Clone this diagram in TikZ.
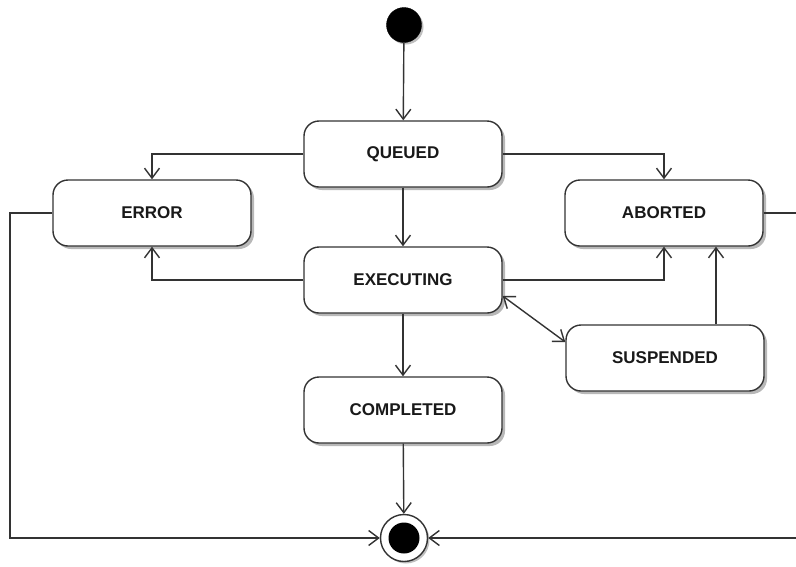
\documentclass[tikz,border=0pt]{standalone}
\usepackage{fontspec}
\setmainfont{Liberation Sans}
\usetikzlibrary{arrows.meta,shadows}
\definecolor{linec}{HTML}{333333}
\tikzset{
  statebox/.style={draw=linec, line width=1.4pt, rounded corners=15pt, fill=white,
    minimum width=198pt, minimum height=66pt, inner sep=0pt,
    font=\fontsize{17}{20}\selectfont\bfseries, text=black!90,
    drop shadow={shadow xshift=3pt, shadow yshift=-3pt, opacity=0.28, fill=black}},
  initstate/.style={circle, fill=black, draw=black, minimum size=35pt, inner sep=0pt,
    drop shadow={shadow xshift=2pt, shadow yshift=-2pt, opacity=0.25, fill=black}},
  finalstate/.style={circle, fill=white, draw=linec, line width=1.4pt, minimum size=47pt, inner sep=0pt,
    drop shadow={shadow xshift=2pt, shadow yshift=-2pt, opacity=0.25, fill=black}},
  conn/.style={draw=linec, line width=1.4pt, -{Straight Barb[length=10pt,width=15pt,line width=1.4pt]}},
  conn2/.style={draw=linec, line width=1.4pt, {Straight Barb[length=10pt,width=15pt,line width=1.4pt]}-{Straight Barb[length=10pt,width=15pt,line width=1.4pt]}},
  plain/.style={draw=linec, line width=1.4pt}
}
\begin{document}
\begin{tikzpicture}[x=1pt,y=-1pt]
\useasboundingbox (0,0) rectangle (796,566);
\begin{scope}
\clip (0,0) rectangle (796,566);
\node[initstate] (start) at (404,25) {};
\node[statebox] (queued) at (403,154) {QUEUED};
\node[statebox] (error) at (152,213) {ERROR};
\node[statebox] (aborted) at (664,213) {ABORTED};
\node[statebox] (exec) at (403,280) {EXECUTING};
\node[statebox] (susp) at (665,358) {SUSPENDED};
\node[statebox] (compl) at (403,410) {COMPLETED};
\node[finalstate] (end) at (404,538) {};
\fill[black] (end.center) circle (15.5pt);

\draw[conn] (start) -- (queued);
\draw[conn] (queued.west) -| (error.north);
\draw[conn] (queued.east) -| (aborted.north);
\draw[conn] (queued) -- (exec);
\draw[conn] (exec.west) -| (error.south);
\draw[conn] (exec.east) -| (aborted.south);
\draw[conn2] ([yshift=-16pt]exec.east) -- ([yshift=16pt]susp.west);
\draw[conn] ([xshift=51pt]susp.north) -- ([xshift=51pt]susp.north |- aborted.south);
\draw[conn] (exec) -- (compl);
\draw[conn] (compl) -- (end);
\coordinate (lcorner) at (10,213);
\coordinate (rcorner) at (800,213);
\draw[conn] (error.west) -- (lcorner) |- (end.west);
\draw[conn] (aborted.east) -- (rcorner) |- (end.east);
\end{scope}
\end{tikzpicture}
\end{document}
